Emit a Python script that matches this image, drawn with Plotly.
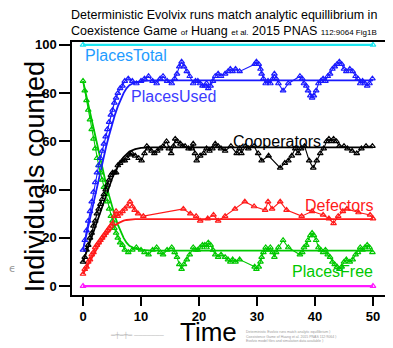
import plotly.graph_objects as go

# ---------------- analytic (deterministic) curves ----------------
t_ana = [0, 0.5, 1, 1.5, 2, 2.5, 3, 3.5, 4, 4.5, 5, 5.5, 6, 6.5, 7, 7.5, 8, 9, 10, 12, 50]
used_ana = [15, 20.5, 26, 31.5, 37, 42.5, 48, 53, 58, 62.5, 67, 71, 74.5, 77.5, 80, 82, 83.3, 84.5, 85, 85.3, 85.3]
free_ana = [85, 79.5, 74, 68.5, 63, 57.5, 52, 47, 42, 37.5, 33, 29, 25.5, 22.5, 20, 18, 16.7, 15.5, 15, 14.7, 14.7]
coop_ana = [10, 13.5, 17, 20.5, 24, 27.5, 31, 34.5, 38, 41.5, 44.5, 47.3, 49.8, 51.8, 53.5, 54.8, 55.8, 56.8, 57.3, 57.5, 57.5]
defe_ana = [5, 7.3, 9.6, 11.8, 14, 16, 18, 19.8, 21.3, 22.7, 24, 25, 26, 26.6, 27.1, 27.4, 27.6, 27.8, 27.8, 27.8, 27.8]
total_t = [0, 50]
total_ana = [100, 100]
zero_ana = [0, 0]

# ---------------- simulation runs ----------------
t_used = [0.0, 0.3, 0.6, 0.9, 1.2, 1.5, 1.8, 2.1, 2.4, 2.7, 3.0, 3.3, 3.6, 3.9, 4.2, 4.5, 4.8, 5.1, 5.4, 5.7,
          6.0, 6.4, 6.8, 7.2, 7.8, 8.5, 9.2, 10.0, 10.6, 11.3, 12.0, 12.7, 13.3, 13.8, 14.5, 15.3, 15.8, 16.2,
          16.6, 17.0, 17.4, 17.9, 18.4, 19.0, 19.4, 19.8, 20.2, 20.6, 21.0, 21.3, 21.6, 22.0, 22.4, 22.8, 23.3,
          23.8, 24.5, 25.0, 25.4, 25.8, 26.3, 27.0, 29.6, 29.9, 30.3, 30.6, 30.8, 31.1, 31.5, 31.9, 32.3, 32.7,
          33.0, 33.3, 33.7, 34.5, 35.4, 37.4, 37.8, 38.1, 38.5, 38.8, 39.2, 39.5, 39.8, 40.2, 40.6, 41.0, 41.4,
          41.8, 42.2, 42.6, 43.0, 43.4, 43.8, 44.2, 44.6, 45.0, 45.4, 46.0, 46.5, 47.0, 47.4, 47.8, 48.2, 48.6,
          49.0, 49.4, 49.9]
used_sim = [15, 19, 23, 27, 31, 35, 39, 43, 47, 50, 53, 56, 59, 62, 65, 68, 71, 73, 76, 78,
            80, 82, 83, 85, 86, 85, 84, 85, 86, 87, 85, 84, 86, 87, 85, 84, 86, 88,
            91, 93, 91, 89, 87, 84, 85, 85, 84, 83, 83, 84, 82, 83, 85, 87, 88,
            87, 88, 89, 90, 89, 90, 89, 92, 93, 92, 90, 88, 86, 84, 85, 84, 86,
            88, 86, 84, 81, 84, 87, 86, 84, 83, 81, 79, 78, 79, 81, 84, 85, 86,
            85, 87, 88, 90, 91, 92, 93, 92, 90, 89, 90, 89, 87, 86, 84, 85, 84,
            83, 84, 86]
free_sim = [85, 81, 77, 73, 69, 65, 61, 57, 53, 50, 47, 44, 41, 38, 35, 32, 29, 27, 24, 22,
            20, 18, 17, 15, 14, 15, 16, 15, 14, 13, 15, 16, 14, 13, 15, 16, 14, 12,
            9, 7, 9, 11, 13, 16, 15, 15, 16, 17, 17, 16, 18, 17, 15, 13, 12,
            13, 12, 11, 10, 11, 10, 11, 8, 7, 8, 10, 12, 14, 16, 15, 16, 14,
            12, 14, 16, 19, 16, 13, 14, 16, 17, 19, 21, 22, 21, 19, 16, 15, 14,
            15, 13, 12, 10, 9, 8, 7, 8, 10, 11, 10, 11, 13, 14, 16, 15, 16,
            17, 16, 14]

t_coop = [0.0, 0.3, 0.6, 0.9, 1.2, 1.5, 1.8, 2.1, 2.4, 2.7, 3.0, 3.3, 3.6, 3.9, 4.2, 4.5, 4.8, 5.1, 5.4, 5.7,
          6.0, 6.4, 6.8, 7.2, 7.6, 8.1, 8.4, 9.0, 9.6, 10.1, 10.6, 11.0, 11.3, 11.8, 12.3, 12.8, 13.3, 13.8,
          14.4, 14.8, 15.2, 15.6, 15.9, 16.3, 16.8, 17.2, 17.6, 18.2, 18.7, 19.0, 19.3, 19.6, 20.2, 20.8, 21.3,
          21.8, 22.3, 22.8, 23.3, 23.8, 24.5, 25.5, 26.5, 27.0, 27.3, 28.0, 28.5, 29.5, 30.2, 30.8, 32.0, 34.0,
          34.8, 35.4, 36.0, 36.6, 37.1, 37.6, 38.2, 39.0, 39.7, 40.3, 40.9, 41.5, 42.0, 42.4, 42.8, 43.2, 43.7,
          44.2, 45.0, 45.6, 46.4, 47.2, 48.0, 48.8, 49.9]
coop_sim = [10, 12, 15, 17, 20, 22, 25, 27, 30, 32, 34, 36, 38, 40, 42, 44, 46, 47, 47, 47,
            50, 51, 52, 52, 53, 54.5, 55, 54, 53, 52, 55, 58, 57, 56, 55, 56, 57, 58,
            60, 57, 55, 58, 61, 60, 59, 58, 58, 57, 57, 59, 55, 52, 54, 55, 57,
            56, 57, 59, 58, 57, 56, 58, 55, 57, 55, 58, 57, 58, 55, 52, 54, 49,
            51, 52, 54, 57, 55, 57, 58, 52, 49, 52, 55, 57, 60, 61, 60, 61, 60,
            58, 58, 57, 56, 55, 57, 58, 58]

t_defe = [0.0, 0.3, 0.6, 0.9, 1.2, 1.5, 1.8, 2.1, 2.4, 2.7, 3.0, 3.3, 3.6, 3.9, 4.2, 4.5, 4.8, 5.1, 5.4, 5.7,
          6.0, 6.4, 6.8, 7.2, 7.6, 8.1, 8.5, 8.9, 9.5, 10.4, 17.3, 18.5, 19.5, 20.2, 21.5, 22.5, 23.3, 24.5,
          26.2, 27.9, 29.5, 31.4, 31.9, 32.6, 34.0, 35.1, 37.7, 39.5, 41.4, 42.4, 43.2, 44.0, 44.8, 45.5,
          47.5, 49.5, 50.0]
defe_sim = [5, 7, 8, 10, 11, 13, 14, 16, 17, 18, 19, 20, 21, 22, 23, 24, 25, 26, 29, 31,
            29, 30, 31, 32, 33, 35, 33, 31.5, 30, 29, 32, 30, 29, 27, 28, 29.5, 27, 29,
            32, 35, 33, 31.5, 35, 32, 35, 31.5, 29, 31, 29.5, 28, 26, 29, 31, 32,
            30.5, 29.5, 28]

# ---------------- labels ----------------
title_line1 = "Deterministic Evolvix runs match analytic equillibrium in"
title_line2 = ("Coexistence Game <span style='font-size:8px'>of</span> Huang "
               "<span style='font-size:8px'>et al.</span> 2015 PNAS "
               "<span style='font-size:8px'>112:9064 Fig1B</span>")
x_title = "Time"
y_title = "Individuals counted"
x_ticks = [0, 10, 20, 30, 40, 50]
y_ticks = [0, 20, 40, 60, 80, 100]

C_BLUE = "#1a1aff"
C_GREEN = "#00c800"
C_RED = "#ff1a1a"
C_BLACK = "#000000"
C_CYAN = "#1ee6f0"
C_MAG = "#ff1aff"

fig = go.Figure()

def sim(x, y, color):
    fig.add_trace(go.Scatter(x=x, y=y, mode="lines+markers",
                             line=dict(color=color, width=1.1),
                             marker=dict(symbol="triangle-up-open", size=5, color=color,
                                         line=dict(width=1.2, color=color)),
                             showlegend=False, hoverinfo="skip"))

def ana(x, y, color, w=1.8):
    fig.add_trace(go.Scatter(x=x, y=y, mode="lines",
                             line=dict(color=color, width=w),
                             showlegend=False, hoverinfo="skip"))

# constant series
ana(total_t, total_ana, C_CYAN, 2.2)
sim(total_t, total_ana, C_CYAN)
ana(total_t, zero_ana, C_MAG, 2.2)
sim(total_t, zero_ana, C_MAG)

for tx, ty, c in [(t_ana, free_ana, C_GREEN), (t_ana, defe_ana, C_RED),
                  (t_ana, coop_ana, C_BLACK), (t_ana, used_ana, C_BLUE)]:
    ana(tx, ty, c)

sim(t_used, free_sim, C_GREEN)
sim(t_defe, defe_sim, C_RED)
sim(t_coop, coop_sim, C_BLACK)
sim(t_used, used_sim, C_BLUE)

lab_font = "Liberation Sans, Arial, sans-serif"
def label(x, y, text, color, anchor):
    fig.add_annotation(x=x, y=y, text=text, showarrow=False, xanchor=anchor, yanchor="middle",
                       font=dict(family=lab_font, size=16, color=color))

label(0, 95.8, "PlacesTotal", "#1e9cff", "left")
label(8.0, 78.4, "PlacesUsed", "#3c3cff", "left")
label(25.5, 59.8, "Cooperators", C_BLACK, "left")
label(50.3, 33.6, "Defectors", C_RED, "right")
label(50.3, 6.2, "PlacesFree", C_GREEN, "right")

fig.add_annotation(xref="paper", yref="paper", x=-0.01, y=1, yshift=2, xanchor="left", yanchor="bottom",
                   align="left", showarrow=False,
                   text=title_line1 + "<br>" + title_line2,
                   font=dict(family=lab_font, size=12.5, color="black"))

# axis titles placed as annotations
fig.add_annotation(xref="paper", yref="paper", x=-0.118, y=0.466, xanchor="center", yanchor="middle",
                   text=y_title, textangle=-90, showarrow=False,
                   font=dict(family=lab_font, size=27, color="black"))
fig.add_annotation(xref="paper", yref="paper", x=0.435, y=-0.146, xanchor="center", yanchor="middle",
                   text=x_title, showarrow=False, borderpad=0,
                   font=dict(family=lab_font, size=26, color="black"))

# small grey decorations
fig.add_annotation(xref="paper", yref="paper", x=-0.19, y=0.105, xanchor="center", yanchor="middle",
                   text="ϵ", showarrow=False, font=dict(family="DejaVu Sans", size=11, color="#999999"))
fig.add_annotation(xref="paper", yref="paper", x=0.115, y=-0.158, xanchor="left", yanchor="middle",
                   text="═╪═╪═ ───────", showarrow=False,
                   font=dict(family=lab_font, size=6, color="#aaaaaa"))
fig.add_annotation(xref="paper", yref="paper", x=0.548, y=-0.162, xanchor="left", yanchor="middle",
                   align="left",
                   text=("Deterministic Evolvix runs match analytic equillibrium ⟩<br>"
                         "Coexistence Game of Huang et al. 2015 PNAS 112:9064 ⟩<br>"
                         "Evolvix model files and simulation data available ⟩"),
                   showarrow=False, font=dict(family=lab_font, size=3.5, color="#999999"))

axis_common = dict(showline=True, linecolor="black", linewidth=1.5, mirror=True,
                   ticks="outside", tickwidth=1.5, tickcolor="black",
                   showgrid=False, zeroline=False, automargin=False,
                   tickfont=dict(family=lab_font, size=13, color="black", weight="bold"))

# the page places the figure 8px from the top-left corner of the window
fig.update_layout(
    width=385, height=340,
    margin=dict(l=64, r=8, t=34, b=53),
    paper_bgcolor="white", plot_bgcolor="white",
    xaxis=dict(range=[-1.9, 52.07], tickvals=x_ticks, ticklen=9, **axis_common),
    yaxis=dict(range=[-3.7, 101.2], tickvals=y_ticks, ticklen=11, **axis_common),
)

fig.write_html("out.html")
